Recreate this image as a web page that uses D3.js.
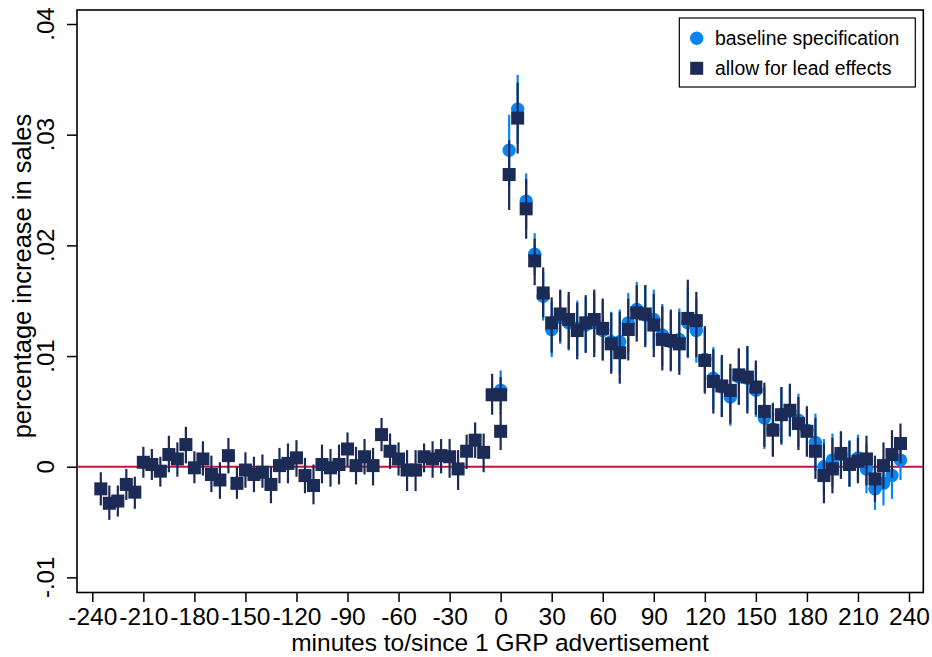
<!DOCTYPE html>
<html>
<head>
<meta charset="utf-8">
<script src="https://cdn.jsdelivr.net/npm/d3@7"></script>
<style>
  html, body { margin: 0; padding: 0; background: #fff; }
  svg { display: block; font-family: "Liberation Sans", Arial, Helvetica, sans-serif; }
</style>
</head>
<body>
<svg id="chart" width="932" height="657"></svg>
<script>
// Minutes relative to the ad (lead-effects model has two estimates at minute 0)
const leadMinutes = [
  -235, -230, -225, -220, -215, -210, -205, -200, -195, -190,
  -185, -180, -175, -170, -165, -160, -155, -150, -145, -140,
  -135, -130, -125, -120, -115, -110, -105, -100, -95, -90,
  -85, -80, -75, -70, -65, -60, -55, -50, -45, -40,
  -35, -30, -25, -20, -15, -10, -5, 0, 0,
  5, 10, 15, 20, 25, 30, 35, 40, 45, 50,
  55, 60, 65, 70, 75, 80, 85, 90, 95, 100,
  105, 110, 115, 120, 125, 130, 135, 140, 145, 150,
  155, 160, 165, 170, 175, 180, 185, 190, 195, 200,
  205, 210, 215, 220, 225, 230, 235
];
const leadEstimate = [
  -0.0020, -0.0033, -0.0031, -0.0016, -0.0023, 0.0004, 0.0002, -0.0004, 0.0011, 0.0007,
  0.0020, -0.0001, 0.0007, -0.0007, -0.0012, 0.0010, -0.0015, -0.0003, -0.0007, -0.0005,
  -0.0016, 0.0001, 0.0003, 0.0008, -0.0008, -0.0017, 0.0002, -0.0001, 0.0002, 0.0016,
  0.0001, 0.0009, 0.0001, 0.0029, 0.0014, 0.0007, -0.0003, -0.0003, 0.0009, 0.0007,
  0.0010, 0.0009, -0.0002, 0.0014, 0.0024, 0.0013, 0.0065, 0.0065, 0.0032,
  0.0264, 0.0315, 0.0233, 0.0186, 0.0157, 0.0130, 0.0138, 0.0133, 0.0123, 0.0130,
  0.0133, 0.0125, 0.0111, 0.0103, 0.0124, 0.0139, 0.0138, 0.0128, 0.0115, 0.0114,
  0.0111, 0.0134, 0.0132, 0.0096, 0.0077, 0.0073, 0.0069, 0.0083, 0.0081, 0.0072,
  0.0050, 0.0033, 0.0047, 0.0051, 0.0039, 0.0032, 0.0014, -0.0008, -0.0002, 0.0012,
  0.0002, 0.0005, 0.0007, -0.0011, 0.0001, 0.0011, 0.0021
];
const leadLower = [
  -0.0035, -0.0048, -0.0045, -0.0030, -0.0038, -0.0010, -0.0012, -0.0018, -0.0005, -0.0009,
  0.0003, -0.0015, -0.0008, -0.0023, -0.0029, -0.0006, -0.0029, -0.0019, -0.0023, -0.0019,
  -0.0033, -0.0015, -0.0015, -0.0009, -0.0024, -0.0034, -0.0015, -0.0018, -0.0016, 0.0000,
  -0.0016, -0.0007, -0.0017, 0.0014, -0.0002, -0.0008, -0.0022, -0.0022, -0.0005, -0.0010,
  -0.0006, -0.0010, -0.0021, -0.0002, 0.0008, -0.0005, 0.0047, 0.0048, 0.0015,
  0.0232, 0.0283, 0.0206, 0.0164, 0.0135, 0.0103, 0.0113, 0.0106, 0.0097, 0.0103,
  0.0099, 0.0096, 0.0084, 0.0075, 0.0096, 0.0113, 0.0108, 0.0099, 0.0087, 0.0087,
  0.0083, 0.0099, 0.0099, 0.0066, 0.0048, 0.0045, 0.0039, 0.0056, 0.0048, 0.0047,
  0.0018, 0.0009, 0.0020, 0.0028, 0.0015, 0.0009, -0.0011, -0.0033, -0.0024, -0.0011,
  -0.0018, -0.0015, -0.0017, -0.0032, -0.0020, -0.0010, 0.0003
];
const leadUpper = [
  -0.0005, -0.0017, -0.0017, -0.0002, -0.0009, 0.0018, 0.0016, 0.0009, 0.0028, 0.0022,
  0.0036, 0.0014, 0.0023, 0.0010, 0.0004, 0.0026, 0.0000, 0.0013, 0.0009, 0.0011,
  0.0000, 0.0017, 0.0021, 0.0024, 0.0008, 0.0002, 0.0020, 0.0016, 0.0020, 0.0031,
  0.0018, 0.0025, 0.0017, 0.0044, 0.0030, 0.0022, 0.0015, 0.0015, 0.0021, 0.0023,
  0.0025, 0.0025, 0.0015, 0.0029, 0.0040, 0.0030, 0.0084, 0.0081, 0.0049,
  0.0295, 0.0347, 0.0260, 0.0206, 0.0180, 0.0153, 0.0160, 0.0158, 0.0148, 0.0155,
  0.0160, 0.0152, 0.0139, 0.0140, 0.0152, 0.0164, 0.0164, 0.0156, 0.0145, 0.0142,
  0.0140, 0.0169, 0.0158, 0.0127, 0.0106, 0.0101, 0.0093, 0.0107, 0.0109, 0.0096,
  0.0076, 0.0057, 0.0072, 0.0075, 0.0063, 0.0054, 0.0044, 0.0021, 0.0026, 0.0032,
  0.0023, 0.0026, 0.0028, 0.0010, 0.0022, 0.0033, 0.0039
];

// Baseline specification: effects from minute 0 onwards
const baseMinutes = [
  0, 5, 10, 15, 20, 25, 30, 35, 40, 45,
  50, 55, 60, 65, 70, 75, 80, 85, 90, 95,
  100, 105, 110, 115, 120, 125, 130, 135, 140, 145,
  150, 155, 160, 165, 170, 175, 180, 185, 190, 195,
  200, 205, 210, 215, 220, 225, 230, 235
];
const baseEstimate = [
  0.0069, 0.0286, 0.0323, 0.0240, 0.0192, 0.0154, 0.0124, 0.0135, 0.0130, 0.0125,
  0.0128, 0.0130, 0.0123, 0.0113, 0.0113, 0.0130, 0.0142, 0.0137, 0.0133, 0.0119,
  0.0113, 0.0115, 0.0130, 0.0123, 0.0097, 0.0080, 0.0072, 0.0063, 0.0081, 0.0080,
  0.0069, 0.0044, 0.0034, 0.0047, 0.0050, 0.0042, 0.0033, 0.0022, 0.0000, 0.0006,
  0.0011, 0.0003, 0.0008, -0.0002, -0.0020, -0.0015, -0.0008, 0.0006
];
const baseMargin = [
  0.0018, 0.0032, 0.0031, 0.0025, 0.0019, 0.0022, 0.0025, 0.0024, 0.0025, 0.0025,
  0.0025, 0.0027, 0.0027, 0.0027, 0.0029, 0.0027, 0.0025, 0.0027, 0.0027, 0.0028,
  0.0027, 0.0028, 0.0032, 0.0029, 0.0029, 0.0028, 0.0027, 0.0026, 0.0025, 0.0029,
  0.0024, 0.0028, 0.0024, 0.0025, 0.0023, 0.0024, 0.0022, 0.0026, 0.0025, 0.0024,
  0.0021, 0.0021, 0.0021, 0.0022, 0.0019, 0.0020, 0.0021, 0.0018
];

const xTicks = [-240, -210, -180, -150, -120, -90, -60, -30, 0, 30, 60, 90, 120, 150, 180, 210, 240];
const yTicks = [-0.01, 0, 0.01, 0.02, 0.03, 0.04];
const yTickLabels = ["-.01", "0", ".01", ".02", ".03", ".04"];
const legendLabels = ["baseline specification", "allow for lead effects"];

const colors = { base: "#0b84f3", lead: "#1c2b55", zero: "#c8103a", axis: "#000" };

const frame = { left: 77, top: 10, right: 923.3, bottom: 592.5 };

const svg = d3.select("#chart");

const x = d3.scaleLinear().domain([-240, 240]).range([92.3, 909]);
const y = d3.scaleLinear().domain([-0.01, 0.04]).range([577.4, 24]);

// Plot frame
svg.append("rect")
  .attr("x", frame.left).attr("y", frame.top)
  .attr("width", frame.right - frame.left)
  .attr("height", frame.bottom - frame.top)
  .attr("fill", "none").attr("stroke", colors.axis).attr("stroke-width", 1.6);

// Zero reference line
svg.append("line")
  .attr("x1", frame.left).attr("x2", frame.right)
  .attr("y1", y(0)).attr("y2", y(0))
  .attr("stroke", colors.zero).attr("stroke-width", 2);

// X axis
const xAxis = svg.append("g")
  .attr("transform", `translate(0,${frame.bottom})`)
  .call(d3.axisBottom(x).tickValues(xTicks).tickSize(9.5).tickPadding(6).tickFormat(d3.format("d")));
xAxis.select(".domain").remove();
xAxis.selectAll(".tick line").attr("stroke", colors.axis).attr("stroke-width", 1.5);
xAxis.selectAll(".tick text")
  .attr("fill", "#000").style("font-size", "24.5px")
  .style("font-family", "'Liberation Sans', Arial, sans-serif")
  .text(d => d < 0 ? "-" + Math.abs(d) : String(d));

// Y axis (rotated tick labels)
const yAxis = svg.append("g")
  .attr("transform", `translate(${frame.left},0)`)
  .call(d3.axisLeft(y).tickValues(yTicks).tickSize(10).tickFormat(""));
yAxis.select(".domain").remove();
yAxis.selectAll(".tick line").attr("stroke", colors.axis).attr("stroke-width", 1.5);

svg.append("g").selectAll("text")
  .data(yTicks)
  .join("text")
  .attr("transform", (d) => `translate(53.5,${y(d)}) rotate(-90)`)
  .attr("text-anchor", "middle")
  .style("font-size", "24px")
  .text((d, i) => yTickLabels[i]);

// Axis titles
svg.append("text")
  .attr("x", 500).attr("y", 651)
  .attr("text-anchor", "middle")
  .style("font-size", "24.5px")
  .text("minutes to/since 1 GRP advertisement");

svg.append("text")
  .attr("transform", `translate(31,276) rotate(-90)`)
  .attr("text-anchor", "middle")
  .style("font-size", "25.5px")
  .text("percentage increase in sales");

// Baseline specification: confidence spikes and circles
const baseData = baseMinutes.map((m, i) => ({ m, v: baseEstimate[i], lo: baseEstimate[i] - baseMargin[i], hi: baseEstimate[i] + baseMargin[i] }));
const leadData = leadMinutes.map((m, i) => ({ m, v: leadEstimate[i], lo: leadLower[i], hi: leadUpper[i] }));

const gBase = svg.append("g");
gBase.selectAll("line")
  .data(baseData).join("line")
  .attr("x1", d => x(d.m)).attr("x2", d => x(d.m))
  .attr("y1", d => y(d.lo)).attr("y2", d => y(d.hi))
  .attr("stroke", colors.base).attr("stroke-width", 2.2);
gBase.selectAll("circle")
  .data(baseData).join("circle")
  .attr("cx", d => x(d.m)).attr("cy", d => y(d.v))
  .attr("r", 6.7).attr("fill", colors.base);

// Lead-effects specification: confidence spikes and squares
const sq = 13;
const gLead = svg.append("g");
gLead.selectAll("line")
  .data(leadData).join("line")
  .attr("x1", d => x(d.m)).attr("x2", d => x(d.m))
  .attr("y1", d => y(d.lo)).attr("y2", d => y(d.hi))
  .attr("stroke", colors.lead).attr("stroke-width", 2.2);
gLead.selectAll("rect")
  .data(leadData).join("rect")
  .attr("x", d => x(d.m) - sq / 2).attr("y", d => y(d.v) - sq / 2)
  .attr("width", sq).attr("height", sq)
  .attr("fill", colors.lead);

// Legend
const legend = svg.append("g");
legend.append("rect")
  .attr("x", 679.3).attr("y", 18).attr("width", 236).attr("height", 69)
  .attr("fill", "#fff").attr("stroke", "#000").attr("stroke-width", 1.2);
legend.append("circle")
  .attr("cx", 696.7).attr("cy", 38.3).attr("r", 6.7).attr("fill", colors.base);
legend.append("rect")
  .attr("x", 696.7 - sq / 2).attr("y", 68.3 - sq / 2).attr("width", sq).attr("height", sq)
  .attr("fill", colors.lead);
legend.selectAll("text.lbl")
  .data(legendLabels).join("text")
  .attr("class", "lbl")
  .attr("x", 715).attr("y", (d, i) => 45 + i * 30)
  .style("font-size", "19.4px")
  .text(d => d);
</script>
</body>
</html>
